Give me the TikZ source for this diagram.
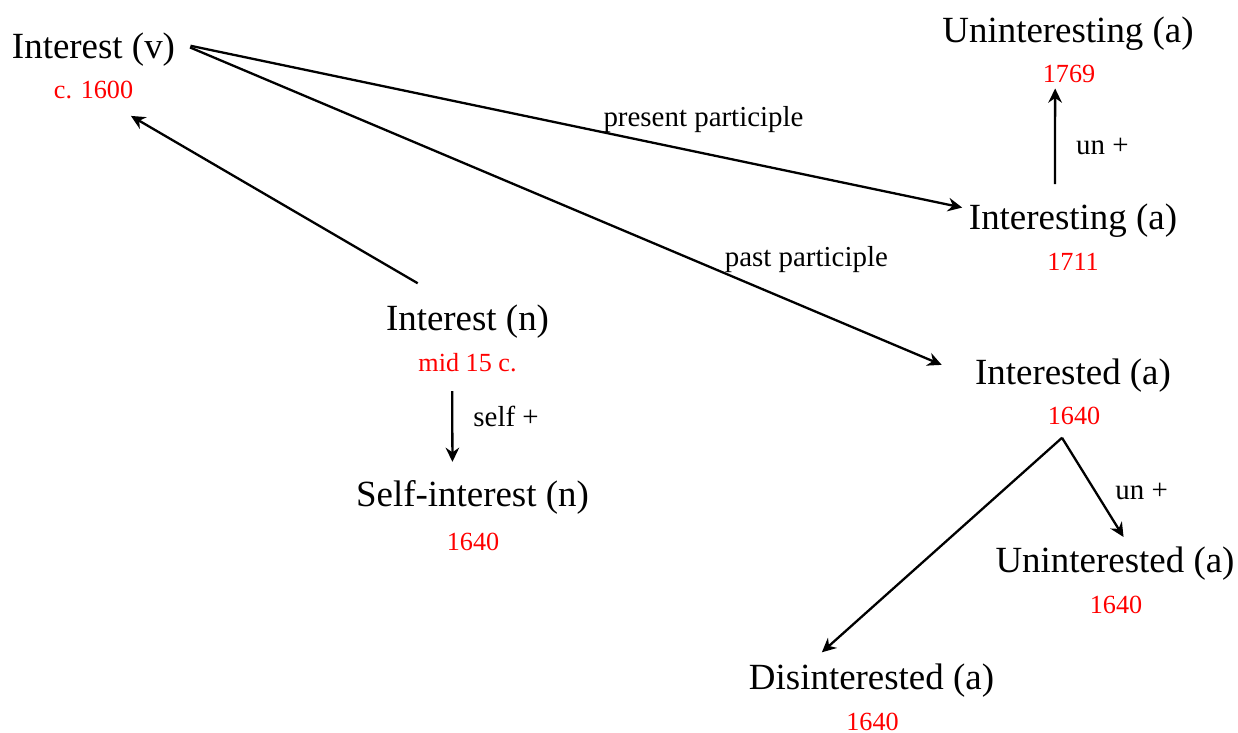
\documentclass[tikz,border=0pt]{standalone}
\usepackage{fontspec}
\setmainfont{Liberation Serif}
\usetikzlibrary{arrows.meta}
\tikzset{
  word/.style={font=\fontsize{12}{14}\selectfont, inner sep=2pt, anchor=base},
  year/.style={font=\fontsize{8.5}{10}\selectfont, text=red, inner sep=1.5pt, anchor=base},
  lbl/.style={font=\fontsize{9.4}{11}\selectfont, inner sep=1pt},
  arr/.style={line width=0.75pt, -{Stealth[length=4.6pt, width=4.4pt, inset=1.5pt]}}
}

\begin{document}
\begin{tikzpicture}[x=0.325pt, y=-0.325pt]
			%%%%% START %%%%%
			\useasboundingbox (0,0) rectangle (1238,733);
			
			\node[word] (intv) at (93.5, 59) {Interest (v)};
			\node[year] (yintv) at (93.5, 99) {c. 1600};
			
			\node[word] (unting) at (1068, 43) {Uninteresting (a)};
			\node[year] (yunting) at (1069, 83) {1769};
			
			\node[word] (inting) at (1073, 230) {Interesting (a)};
			\node[year] (yinting) at (1073, 271) {1711};
			
			\node[word] (intn) at (467.5, 331) {Interest (n)};
			\node[year] (yintn) at (467.5, 372) {mid 15 c.};
			
			\node[word] (selfint) at (472.5, 506) {Self-interest (n)};
			\node[year] (yselfint) at (473, 550) {1640};
			
			\node[word] (inted) at (1073, 385) {Interested (a)};
			\node[year] (yinted) at (1074, 424) {1640};
			
			\node[word] (unted) at (1115, 572) {Uninterested (a)};
			\node[year] (yunted) at (1116, 613) {1640};
			
			\node[word] (disted) at (871.5, 689) {Disinterested (a)};
			\node[year] (ydisted) at (872.5, 730) {1640};
			
			\draw[arr, shorten <=2.9pt] (intv.4) -- node[lbl, pos=0.535, anchor=south west, yshift=-1.7pt] (lpres) {present participle} (inting.173);
			\draw[arr, shorten <=2.9pt, shorten >=9.4pt] (intv.4) -- node[lbl, pos=0.685, anchor=south west, yshift=-1.9pt] (lpast) {past participle} (inted.west);
			\draw[arr, shorten <=9.9pt, shorten >=7.3pt] (intn.135) -- (yintv.-38);
			
			\draw[arr, shorten <=4.4pt, shorten >=3.7pt] ([xshift=-5pt]yintn.south) -- node[lbl, pos=0.41, right=5.5pt] (lself) {self +} ([xshift=-6.5pt]selfint.north);
			\draw[arr, shorten <=4.4pt] ([xshift=-5.9pt]inting.north) -- node[lbl, pos=0.468, right=5.5pt] (lunup) {un +} ([xshift=-4.5pt]yunting.south);
			
			\draw[arr, shorten >=1pt] ([xshift=-3.9pt, yshift=-2.7pt]yinted.south) -- node[lbl, pos=0.53, right=5.1pt] (lundown) {un +} ([xshift=3.3pt]unted.north);
			\draw[arr, shorten >=2.1pt] ([xshift=-3.9pt, yshift=-2.7pt]yinted.south) -- ([xshift=-17.7pt]disted.north);
			
			%%%%% END %%%%%
\end{tikzpicture}
\end{document}
